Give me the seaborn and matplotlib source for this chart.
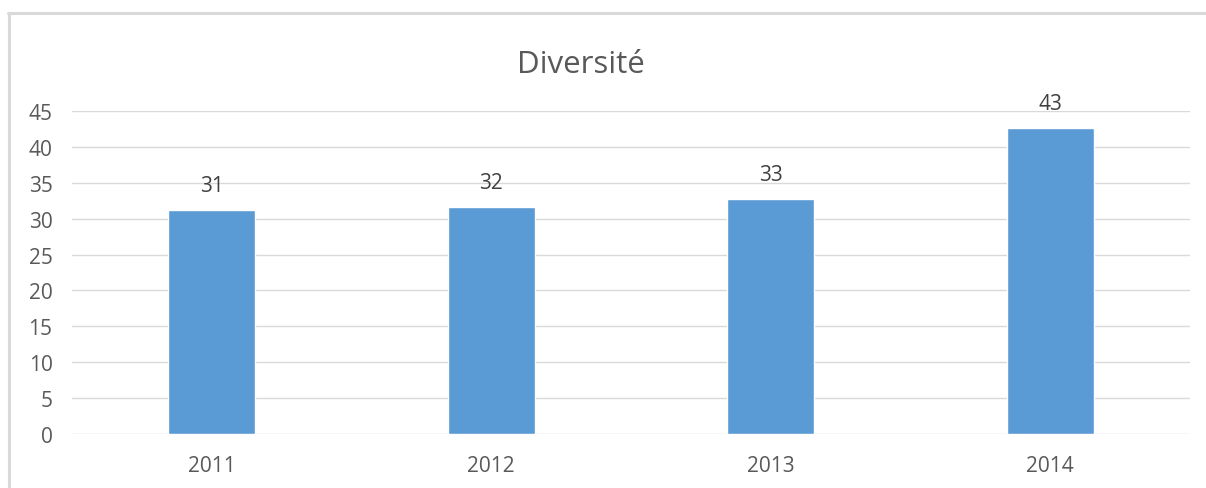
import matplotlib
matplotlib.use("Agg")
import matplotlib.pyplot as plt
from matplotlib.lines import Line2D
import seaborn as sns
import pandas as pd

years = ["2011", "2012", "2013", "2014"]
values = [31.2, 31.6, 32.7, 42.6]
value_labels = ["31", "32", "33", "43"]
title = "Diversité"

sns.set_theme(style="white")
plt.rcParams["font.family"] = ["Open Sans", "DejaVu Sans"]

df = pd.DataFrame({"year": years, "value": values})

fig = plt.figure(figsize=(12.06, 4.89), dpi=100)
ax = fig.add_axes([72 / 1206, 1 - 435 / 489, (1190 - 72) / 1206, (435 - 112) / 489])

sns.barplot(data=df, x="year", y="value", color="#5b9bd5", width=0.31,
            saturation=1, ax=ax, zorder=3)

ax.set_ylim(0, 45)
ax.set_yticks(range(0, 46, 5))
ax.set_xlim(-0.5, len(years) - 0.5)
ax.yaxis.grid(True, color="#d9d9d9", linewidth=1.0, zorder=0)
ax.set_axisbelow(True)
for s in ax.spines.values():
    s.set_visible(False)
ax.set_xlabel("")
ax.set_ylabel("")
ax.tick_params(axis="y", length=0, pad=14, labelsize=15, labelcolor="#595959")
ax.tick_params(axis="x", length=0, pad=15, labelsize=15, labelcolor="#595959")

for i, (v, lab) in enumerate(zip(values, value_labels)):
    ax.annotate(lab, (i, v), xytext=(0, 14), textcoords="offset points",
                ha="center", va="baseline", fontsize=15, color="#404040")

fig.text(581 / 1206, 1 - 73 / 489, title, ha="center", va="baseline",
         fontsize=22.5, color="#595959")

# outer chart border (top and left visible)
fig.add_artist(Line2D([8 / 1206, 1.0], [1 - 13.5 / 489, 1 - 13.5 / 489],
                      transform=fig.transFigure, color="#d9d9d9", linewidth=2.2))
fig.add_artist(Line2D([9 / 1206, 9 / 1206], [1 - 13.5 / 489, 0.0],
                      transform=fig.transFigure, color="#d9d9d9", linewidth=2.2))

fig.savefig("out.png", dpi=100)
